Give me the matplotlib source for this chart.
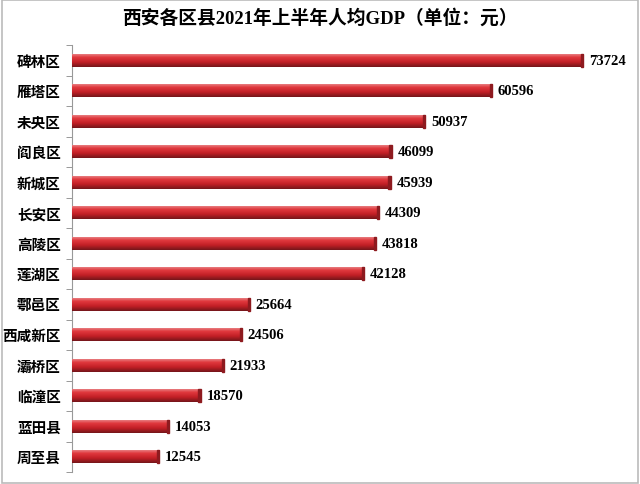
import numpy as np
import matplotlib.pyplot as plt
from matplotlib.patches import Rectangle
from matplotlib.colors import LinearSegmentedColormap

districts = ['碑林区', '雁塔区', '未央区', '阎良区', '新城区', '长安区', '高陵区',
             '莲湖区', '鄠邑区', '西咸新区', '灞桥区', '临潼区', '蓝田县', '周至县']
gdp = [73724, 60596, 50937, 46099, 45939, 44309, 43818,
       42128, 25664, 24506, 21933, 18570, 14053, 12545]

fonts = ['Liberation Serif', 'Noto Sans CJK SC']
plt.rcParams['font.family'] = fonts

fig = plt.figure(figsize=(6.4, 4.85), dpi=100)
ax = fig.add_axes([72 / 640, 12 / 485, 555 / 640, 427 / 485])

y = np.arange(len(districts))
bars = ax.barh(y, gdp, height=0.44, color='#c8262c', edgecolor='none', zorder=2)

# cylinder-like shading: light top, red middle, dark bottom
grad = np.linspace(0, 1, 64).reshape(-1, 1)
cmap = LinearSegmentedColormap.from_list(
    'cyl', [(0, '#ea9294'), (0.3, '#e0383d'), (0.65, '#c21f26'), (1, '#74161a')])
for b in bars:
    x0, y0 = b.get_x(), b.get_y()
    w, h = b.get_width(), b.get_height()
    im = ax.imshow(grad, cmap=cmap, extent=[x0, x0 + w, y0 + h, y0],
                   aspect='auto', zorder=3)
    im.set_clip_path(b)
    ax.add_patch(Rectangle((x0 + w - 350, y0), 350, h, color='#8e1a1f', zorder=4))
    ax.text(x0 + w + 800, y0 + h / 2, str(int(w)), va='center', ha='left',
            fontsize=10.5, fontweight='bold', family=fonts, zorder=5)

ax.set_xlim(0, 80000)
ax.set_ylim(len(districts) - 0.5, -0.5)
ax.set_yticks(y)
ax.set_yticklabels(districts, fontsize=10.5, fontweight='bold')
ax.set_yticks(np.arange(-0.5, len(districts), 1), minor=True)
ax.tick_params(axis='y', which='major', length=0, pad=8)
ax.tick_params(axis='y', which='minor', length=4, color='#888888')
ax.set_xticks([])
for s in ['top', 'right', 'bottom']:
    ax.spines[s].set_visible(False)
ax.spines['left'].set_color('#999999')

fig.text(0.5, 0.962, '西安各区县2021年上半年人均GDP（单位：元）', ha='center', va='center',
         fontsize=13.5, fontweight='bold')

fig.patches.append(Rectangle((0.003, 0.003), 0.994, 0.994, transform=fig.transFigure,
                             fill=False, edgecolor='#bbbbbb', linewidth=1.2))

fig.savefig('out.png', dpi=100)
